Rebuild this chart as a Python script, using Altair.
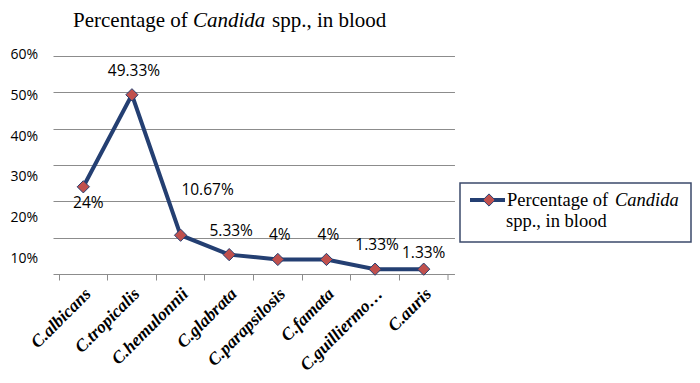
import altair as alt
import pandas as pd

categories = ["C.albicans", "C.tropicalis", "C.hemulonnii", "C.glabrata",
              "C.parapsilosis", "C.famata", "C.guilliermondii", "C.auris"]
values = [24, 49.33, 10.67, 5.33, 4, 4, 1.33, 1.33]
value_labels = ["24%", "49.33%", "10.67%", "5.33%", "4%", "4%", "1.33%", "1.33%"]
ytick_values = [10, 20, 30, 40, 50, 60]
ytick_labels = ["10%", "20%", "30%", "40%", "50%", "60%"]

df = pd.DataFrame({"cat": categories, "val": values, "lab": value_labels})
ydf = pd.DataFrame({"v": ytick_values, "t": ytick_labels})
one = pd.DataFrame({"d": [0]})

W, H = 389, 218
NAVY = "#243F72"
RED = "#C0504D"
GRID = "#8C8C8C"
SANS = "Open Sans"
SERIF = "Liberation Serif"

xenc = alt.X("cat:N", sort=categories, title=None,
             scale=alt.Scale(type="band", paddingInner=0, paddingOuter=0),
             axis=alt.Axis(bandPosition=0, labelAngle=-45, labelAlign="right",
                           labelBaseline="middle", labelOffset=5, labelPadding=11,
                           tickSize=6, tickColor=GRID, domainColor=GRID,
                           labelFont=SERIF, labelFontSize=17.5, labelFontWeight="bold",
                           labelFontStyle="italic", labelColor="black", labelLimit=200,
                           labelExpr="datum.label == 'C.guilliermondii' ? 'C.guilliermo\u2026' : datum.label"))
yenc = alt.Y("val:Q", title=None, scale=alt.Scale(domain=[0, 60], nice=False, zero=True),
             axis=alt.Axis(values=[0, 10, 20, 30, 40, 50, 60], labels=False, domain=False,
                           grid=True, gridColor=GRID, tickSize=6, tickColor=GRID))

base = alt.Chart(df)
line = base.mark_line(color=NAVY, strokeWidth=4).encode(x=xenc, y=yenc)
pts = base.mark_point(shape="diamond", filled=True, fill=RED, stroke=NAVY,
                      strokeWidth=1, size=150, opacity=1).encode(x=xenc, y=yenc)

tstyle = dict(font=SANS, fontSize=15.5, color="black")
lab_up = base.transform_filter(
    alt.FieldOneOfPredicate(field="cat", oneOf=["C.tropicalis", "C.glabrata", "C.parapsilosis", "C.famata", "C.guilliermondii"])
).mark_text(dy=-24, dx=2, **tstyle).encode(x=xenc, y=yenc, text="lab:N")
lab_down = base.transform_filter(alt.datum.cat == "C.albicans").mark_text(dy=16, dx=5, **tstyle).encode(
    x=xenc, y=yenc, text="lab:N")
lab_hem = base.transform_filter(alt.datum.cat == "C.hemulonnii").mark_text(dy=-45, dx=27, **tstyle).encode(
    x=xenc, y=yenc, text="lab:N")
lab_aur = base.transform_filter(alt.datum.cat == "C.auris").mark_text(dy=-16, dx=0, **tstyle).encode(
    x=xenc, y=yenc, text="lab:N")

ylab = alt.Chart(ydf).mark_text(align="right", baseline="middle", font=SANS, fontSize=14, color="black").encode(
    x=alt.value(-21),
    y=alt.Y("v:Q", axis=None, scale=alt.Scale(domain=[6.34, 59.76], nice=False, zero=False)),
    text="t:N")

lasttick = alt.Chart(one).mark_rule(color=GRID).encode(
    x=alt.value(W), y=alt.value(H), y2=alt.value(H + 6))

def txt(s, x, y, size, style="normal", align="left"):
    return alt.Chart(pd.DataFrame({"t": [s]})).mark_text(
        align=align, baseline="alphabetic", font=SERIF, fontSize=size, fontStyle=style, color="black"
    ).encode(x=alt.value(x), y=alt.value(y), text="t:N")

title = [txt("Percentage of", 14, -29, 21), txt("Candida", 134, -29, 21, "italic"),
         txt("spp., in blood", 213, -29, 21)]

legbox = alt.Chart(one).mark_rect(fill="white", stroke="#3B4A6B", strokeWidth=1.5).encode(
    x=alt.value(401), x2=alt.value(632), y=alt.value(127), y2=alt.value(186))
legline = alt.Chart(one).mark_rule(color=NAVY, strokeWidth=4).encode(
    x=alt.value(411), x2=alt.value(446), y=alt.value(144))
legpt = alt.Chart(one).mark_point(shape="diamond", filled=True, fill=RED, stroke=NAVY,
                                  strokeWidth=1, size=150, opacity=1).encode(
    x=alt.value(430), y=alt.value(144))
legtxt = [txt("Percentage of", 448, 150, 18.5), txt("Candida", 556, 150, 18.5, "italic"),
          txt("spp., in blood", 447, 171, 18.5)]

chart = alt.layer(line, pts, lab_up, lab_down, lab_hem, lab_aur, lasttick, ylab,
                  *title, legbox, legline, legpt, *legtxt).resolve_scale(
    y="independent"
).properties(
    width=W, height=H,
    autosize=alt.AutoSizeParams(type="none"),
    padding={"left": 51, "top": 48, "right": 244, "bottom": 101},
).configure_view(stroke=None)

chart.save("out.html", embed_options={"renderer": "svg", "actions": False})
